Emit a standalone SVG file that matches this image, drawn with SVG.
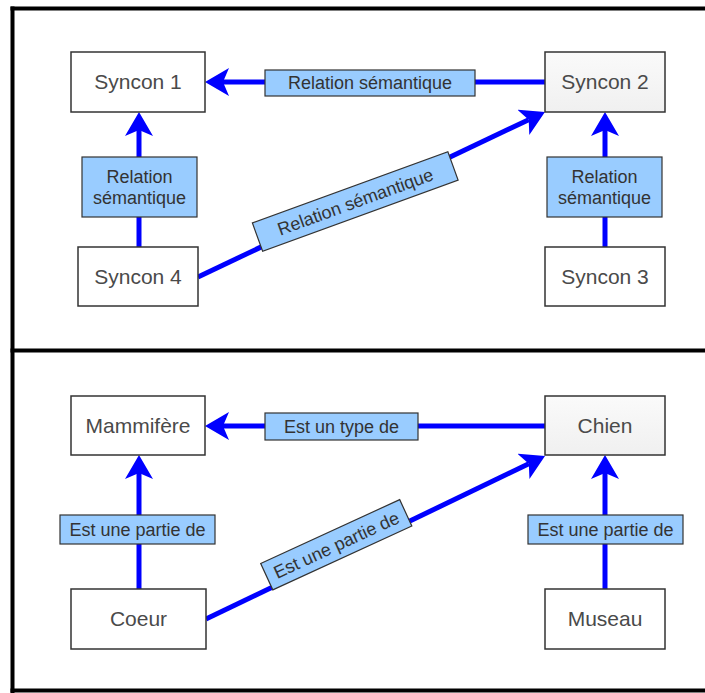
<svg xmlns="http://www.w3.org/2000/svg" width="705" height="693" viewBox="0 0 705 693">
<style>
.node{fill:#ffffff;stroke:#333333;stroke-width:1.5}
.node2{fill:url(#g);stroke:#333333;stroke-width:1.5}
.nt{font-family:"Liberation Sans",Arial,sans-serif;font-size:21px;fill:#4a4a4a;text-anchor:middle}
.lab{fill:#99ccff;stroke:#333333;stroke-width:1.2}
.lt{font-family:"Liberation Sans",Arial,sans-serif;font-size:18px;fill:#333333;text-anchor:middle}
.edge{stroke:#0000ff;stroke-width:5;fill:none}
.frame{stroke:#000000;stroke-width:4;fill:none}
</style>
<defs>
<linearGradient id="g" x1="0" y1="0" x2="0" y2="1">
<stop offset="0" stop-color="#fafafa"/>
<stop offset="1" stop-color="#f0f0f0"/>
</linearGradient>
<marker id="arr" markerUnits="userSpaceOnUse" viewBox="0 -14 24 28" markerWidth="24" markerHeight="28" refX="6" refY="0" orient="auto">
<path d="M24,0 L0,-14 L6,0 L0,14 Z" fill="#0000ff"/>
</marker>
</defs>
<rect width="705" height="693" fill="#ffffff"/>
<g id="frame">
<line class="frame" x1="12.5" y1="6.5" x2="12.5" y2="693"/>
<line class="frame" x1="10.5" y1="8.5" x2="705" y2="8.5"/>
<line class="frame" x1="10.5" y1="350.5" x2="705" y2="350.5"/>
<line class="frame" x1="10.5" y1="690.5" x2="705" y2="690.5"/>
</g>
<g id="connectors">
<line class="edge" x1="545" y1="82" x2="223" y2="82" marker-end="url(#arr)"/>
<line class="edge" x1="139" y1="247" x2="139" y2="130" marker-end="url(#arr)"/>
<line class="edge" x1="605" y1="247" x2="605" y2="130" marker-end="url(#arr)"/>
<line class="edge" x1="198" y1="277" x2="528.7" y2="119.7" marker-end="url(#arr)"/>
<line class="edge" x1="545" y1="426" x2="223" y2="426" marker-end="url(#arr)"/>
<line class="edge" x1="139" y1="589" x2="139" y2="473" marker-end="url(#arr)"/>
<line class="edge" x1="605" y1="589" x2="605" y2="473" marker-end="url(#arr)"/>
<line class="edge" x1="206" y1="619" x2="528.8" y2="463.8" marker-end="url(#arr)"/>
</g>
<g id="labels">
<g id="lab-top"><rect class="lab" x="265" y="70" width="210" height="26"/><text class="lt" x="370" y="89">Relation sémantique</text></g>
<g id="lab-left"><rect class="lab" x="82" y="157" width="115" height="60"/><text class="lt" x="139.5" y="183">Relation</text><text class="lt" x="139.5" y="204">sémantique</text></g>
<g id="lab-right"><rect class="lab" x="547" y="157" width="115" height="60"/><text class="lt" x="604.5" y="183">Relation</text><text class="lt" x="604.5" y="204">sémantique</text></g>
<g id="lab-diag" transform="translate(355.25,201.5) rotate(-20)"><rect class="lab" x="-104" y="-15" width="208" height="30"/><text class="lt" x="0" y="6.5">Relation sémantique</text></g>
<g id="lab-bottom"><rect class="lab" x="265" y="413" width="153" height="27"/><text class="lt" x="341.5" y="433">Est un type de</text></g>
<g id="lab-bleft"><rect class="lab" x="60" y="515" width="155" height="29"/><text class="lt" x="137.5" y="536">Est une partie de</text></g>
<g id="lab-bright"><rect class="lab" x="528" y="515" width="155" height="29"/><text class="lt" x="605.5" y="536">Est une partie de</text></g>
<g id="lab-bdiag" transform="translate(336.25,544.75) rotate(-24.7)"><rect class="lab" x="-76.5" y="-14.5" width="153" height="29"/><text class="lt" x="0" y="6.5">Est une partie de</text></g>
</g>
<g id="syncon1"><rect class="node" x="71" y="52" width="134" height="60"/><text class="nt" x="138" y="89">Syncon 1</text></g>
<g id="syncon2"><rect class="node2" x="545" y="52" width="120" height="60"/><text class="nt" x="605" y="89">Syncon 2</text></g>
<g id="syncon4"><rect class="node" x="78" y="247" width="120" height="59"/><text class="nt" x="138" y="284">Syncon 4</text></g>
<g id="syncon3"><rect class="node" x="545" y="247" width="120" height="59"/><text class="nt" x="605" y="284">Syncon 3</text></g>
<g id="mammifere"><rect class="node" x="71" y="396" width="134" height="59"/><text class="nt" x="138" y="433">Mammifère</text></g>
<g id="chien"><rect class="node2" x="545" y="396" width="120" height="59"/><text class="nt" x="605" y="433">Chien</text></g>
<g id="coeur"><rect class="node" x="71" y="589" width="135" height="60"/><text class="nt" x="138.5" y="626">Coeur</text></g>
<g id="museau"><rect class="node" x="545" y="589" width="120" height="60"/><text class="nt" x="605" y="626">Museau</text></g>
</svg>
